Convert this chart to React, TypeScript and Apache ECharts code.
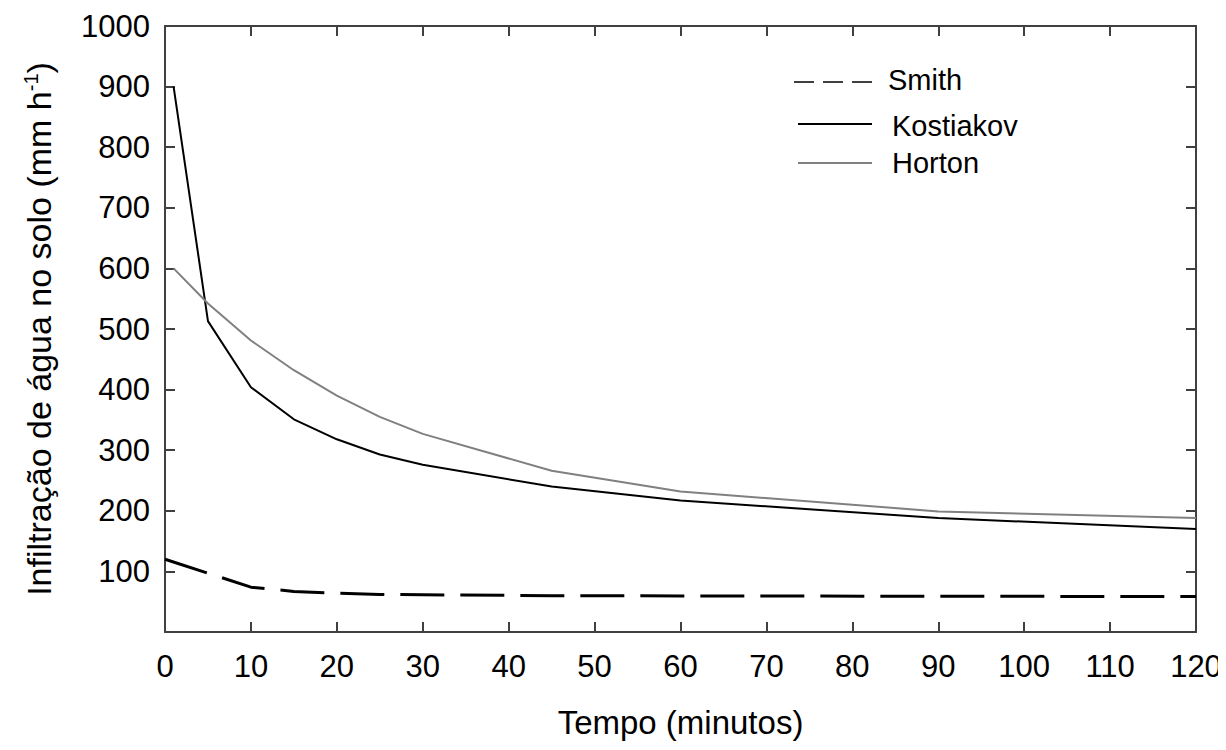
import React, { useEffect, useRef } from "react";
import * as echarts from "echarts";

const smith: [number, number][] = [
  [0, 120], [5, 97], [10, 74], [15, 67], [20, 64], [25, 62], [30, 61.5], [45, 60], [60, 59.5], [90, 59], [120, 58.5],
];
const kostiakov: [number, number][] = [
  [1, 900], [5, 513], [10, 404], [15, 351], [20, 318], [25, 293], [30, 276], [45, 240], [60, 217], [90, 188], [120, 170],
];
const horton: [number, number][] = [
  [1, 600], [5, 542], [10, 481], [15, 432], [20, 390], [25, 355], [30, 327], [45, 266], [60, 232], [90, 199], [120, 188],
];
const yTicks = [100, 200, 300, 400, 500, 600, 700, 800, 900, 1000];
const legendNames = ["Smith", "Kostiakov", "Horton"];

const FONT = "Liberation Sans, Arial, sans-serif";
const AXIS_COLOR = "#404040";

export default function App() {
  const ref = useRef<HTMLDivElement>(null);
  useEffect(() => {
    if (!ref.current) return;
    const chart = echarts.init(ref.current, undefined, { renderer: "svg" });
    const axisCommon = {
      axisLine: { show: true, onZero: false, lineStyle: { color: AXIS_COLOR, width: 2 } },
      axisTick: { show: true, inside: true, length: 10, lineStyle: { color: AXIS_COLOR, width: 2 } },
      splitLine: { show: false },
    };
    chart.setOption({
      animation: false,
      backgroundColor: "#ffffff",
      textStyle: { fontFamily: FONT },
      grid: { left: 165, right: 30, top: 26, bottom: 118, containLabel: false },
      xAxis: [
        {
          type: "value", min: 0, max: 120, interval: 10, ...axisCommon,
          axisLabel: { color: "#000", fontSize: 31, fontFamily: FONT, margin: 19 },
          name: "Tempo (minutos)", nameLocation: "middle", nameGap: 74,
          nameTextStyle: { color: "#000", fontSize: 33, fontFamily: FONT },
        },
        {
          type: "value", position: "top", min: 0, max: 120, interval: 10, ...axisCommon,
          axisLabel: { show: false },
        },
      ],
      yAxis: [
        {
          type: "value", min: 0, max: 1000, interval: 100, ...axisCommon,
          axisLabel: {
            color: "#000", fontSize: 31, fontFamily: FONT, margin: 15,
            formatter: (v: number) => (yTicks.includes(v) ? String(v) : ""),
          },
          name: "{a|Infiltração de água no solo (mm h}{s|-1}{a|)}",
          nameLocation: "middle", nameGap: 108, nameRotate: 90,
          nameTextStyle: {
            rich: {
              a: { fontSize: 34, fontFamily: FONT, color: "#000" },
              s: { fontSize: 20, fontFamily: FONT, color: "#000", verticalAlign: "top", padding: [0, 0, 16, 0] },
            },
          },
        },
        {
          type: "value", position: "right", min: 0, max: 1000, interval: 100, ...axisCommon,
          axisLabel: { show: false },
        },
      ],
      series: [
        {
          name: legendNames[0], type: "line", data: smith, showSymbol: false, symbol: "none",
          lineStyle: { color: "#000", width: 3, type: [44, 16] },
        },
        {
          name: legendNames[1], type: "line", data: kostiakov, showSymbol: false, symbol: "none",
          lineStyle: { color: "#000", width: 2 },
        },
        {
          name: legendNames[2], type: "line", data: horton, showSymbol: false, symbol: "none",
          lineStyle: { color: "#808080", width: 2 },
        },
      ],
      graphic: [
        { type: "line", shape: { x1: 794, y1: 82, x2: 872, y2: 82 }, style: { stroke: "#000", lineWidth: 1.5, lineDash: [20, 9] } },
        { type: "text", x: 888, y: 80, style: { text: legendNames[0], font: `29px ${FONT}`, fill: "#000", textVerticalAlign: "middle" } },
        { type: "line", shape: { x1: 798, y1: 124, x2: 872, y2: 124 }, style: { stroke: "#000", lineWidth: 2 } },
        { type: "text", x: 892, y: 126, style: { text: legendNames[1], font: `29px ${FONT}`, fill: "#000", textVerticalAlign: "middle" } },
        { type: "line", shape: { x1: 798, y1: 163, x2: 872, y2: 163 }, style: { stroke: "#808080", lineWidth: 2 } },
        { type: "text", x: 892, y: 163, style: { text: legendNames[2], font: `29px ${FONT}`, fill: "#000", textVerticalAlign: "middle" } },
      ],
    });
    return () => chart.dispose();
  }, []);
  return <div ref={ref} style={{ width: 1226, height: 750, margin: -8 }} />;
}
